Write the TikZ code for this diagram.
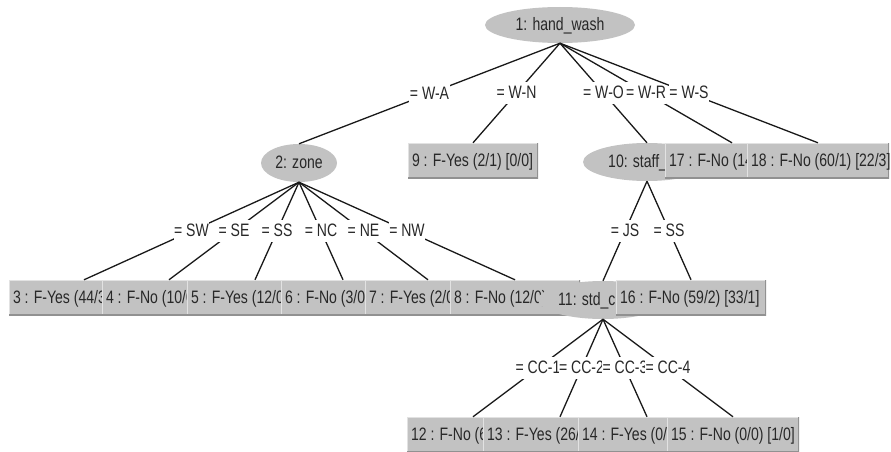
\documentclass[tikz,border=0pt]{standalone}
\usepackage{fontspec}
\setmainfont{Liberation Sans}[FakeStretch=0.78]
\usetikzlibrary{shapes.geometric}
\definecolor{nodegray}{RGB}{194,194,194}
\definecolor{rimdark}{RGB}{145,145,145}
\definecolor{rimlight}{RGB}{226,226,226}
\definecolor{ink}{RGB}{40,40,40}
\definecolor{wire}{RGB}{25,25,25}
\begin{document}
\begin{tikzpicture}[x=1pt,y=-1pt,
  every node/.style={font=\fontsize{18}{21}\selectfont, text=ink},
  split/.style={ellipse, fill=nodegray, inner sep=0pt, text height=12pt, text depth=1pt},
  leaf/.style={rectangle, fill=nodegray, inner sep=0pt, minimum height=35pt, minimum width=#1,
    path picture={
      \draw[rimlight, line width=2pt] (path picture bounding box.south west) -- (path picture bounding box.north west) -- (path picture bounding box.north east);
      \draw[rimdark, line width=2.4pt] (path picture bounding box.south west) -- (path picture bounding box.south east) -- (path picture bounding box.north east);
    }},
  ltext/.style={anchor=base west, inner sep=0pt},
  lbl/.style={fill=white, inner xsep=0.5pt, inner ysep=4.5pt, text height=12pt, text depth=1pt},
  edge/.style={draw=wire, line width=1.3pt}
]
\useasboundingbox (0,0) rectangle (891,452);

% inner decision nodes and leaves, in drawing order (later ones lie on top)
\node[split, minimum width=150pt, minimum height=36pt] (n1) at (560,25) {1: hand\_wash};
\node[split, minimum width=76pt, minimum height=38pt] (n2) at (299,163) {2: zone};

\node[leaf=150pt] (n3) at (84,297.5) {};
\node[ltext] (t3) at ([xshift=4pt,yshift=-5.5pt]n3.west) {3 : F-Yes (44/3};
\node[leaf=134pt] (n4) at (169,297.5) {};
\node[ltext] (t4) at ([xshift=4pt,yshift=-5.5pt]n4.west) {4 : F-No (10/0};
\node[leaf=136pt] (n5) at (255,297.5) {};
\node[ltext] (t5) at ([xshift=4pt,yshift=-5.5pt]n5.west) {5 : F-Yes (12/0};
\node[leaf=124pt] (n6) at (343,297.5) {};
\node[ltext] (t6) at ([xshift=4pt,yshift=-5.5pt]n6.west) {6 : F-No (3/0)};
\node[leaf=126pt] (n7) at (428,297.5) {};
\node[ltext] (t7) at ([xshift=4pt,yshift=-5.5pt]n7.west) {7 : F-Yes (2/0};
\node[leaf=130pt] (n8) at (515,297.5) {};
\node[ltext] (t8) at ([xshift=4pt,yshift=-5.5pt]n8.west) {8 : F-No (12/0)};

\node[leaf=130pt] (n9) at (473,160.5) {};
\node[ltext] (t9) at ([xshift=4pt,yshift=-5.5pt]n9.west) {9 : F-Yes (2/1) [0/0]};

\node[split, minimum width=128pt, minimum height=38pt] (n10) at (647,162) {};
\node[ltext] (t10) at (608,167.5) {10: staff\_};

\node[split, minimum width=130pt, minimum height=38pt] (n11) at (603,300) {};
\node[ltext] (t11) at (558,305.5) {11: std\_c};

\node[leaf=132pt] (n12) at (473,434.5) {};
\node[ltext] (t12) at ([xshift=4pt,yshift=-5.5pt]n12.west) {12 : F-No (60};
\node[leaf=154pt] (n13) at (560,434.5) {};
\node[ltext] (t13) at ([xshift=4pt,yshift=-5.5pt]n13.west) {13 : F-Yes (26/};
\node[leaf=138pt] (n14) at (647,434.5) {};
\node[ltext] (t14) at ([xshift=4pt,yshift=-5.5pt]n14.west) {14 : F-Yes (0/0};
\node[leaf=132pt] (n15) at (733,434.5) {};
\node[ltext] (t15) at ([xshift=4pt,yshift=-5.5pt]n15.west) {15 : F-No (0/0) [1/0]};

\node[leaf=150pt] (n16) at (691,297.5) {};
\node[ltext] (t16) at ([xshift=4pt,yshift=-5.5pt]n16.west) {16 : F-No (59/2) [33/1]};

\node[leaf=134pt] (n17) at (732,160.5) {};
\node[ltext] (t17) at ([xshift=4pt,yshift=-5.5pt]n17.west) {17 : F-No (14};
\node[leaf=142pt] (n18) at (818,160.5) {};
\node[ltext] (t18) at ([xshift=4pt,yshift=-5.5pt]n18.west) {18 : F-No (60/1) [22/3]};

% branches, each with its test value on a white patch at mid-length
\draw[edge] (n1.south) -- node[lbl] (lwa) {= W-A} (n2.north);
\draw[edge] (n1.south) -- node[lbl] (lwn) {= W-N} (n9.north);
\draw[edge] (n1.south) -- node[lbl] (lwo) {= W-O} (n10.north);
\draw[edge] (n1.south) -- node[lbl] (lwr) {= W-R} (n17.north);
\draw[edge] (n1.south) -- node[lbl] (lws) {= W-S} (n18.north);

\draw[edge] (n2.south) -- node[lbl] (lsw) {= SW} (n3.north);
\draw[edge] (n2.south) -- node[lbl] (lse) {= SE} (n4.north);
\draw[edge] (n2.south) -- node[lbl] (lss) {= SS} (n5.north);
\draw[edge] (n2.south) -- node[lbl] (lnc) {= NC} (n6.north);
\draw[edge] (n2.south) -- node[lbl] (lne) {= NE} (n7.north);
\draw[edge] (n2.south) -- node[lbl] (lnw) {= NW} (n8.north);

\draw[edge] (n10.south) -- node[lbl] (ljs) {= JS} (n11.north);
\draw[edge] (n10.south) -- node[lbl] (lss2) {= SS} (n16.north);

\draw[edge] (n11.south) -- node[lbl] (lc1) {= CC-1} (n12.north);
\draw[edge] (n11.south) -- node[lbl] (lc2) {= CC-2} (n13.north);
\draw[edge] (n11.south) -- node[lbl] (lc3) {= CC-3} (n14.north);
\draw[edge] (n11.south) -- node[lbl] (lc4) {= CC-4} (n15.north);
\end{tikzpicture}
\end{document}
